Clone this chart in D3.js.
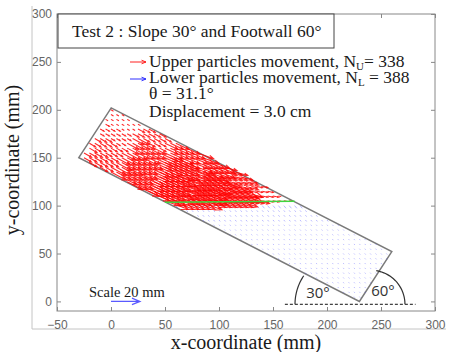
<!DOCTYPE html>
<html>
<head>
<meta charset="utf-8">
<script src="https://cdn.jsdelivr.net/npm/d3@7"></script>
<style>
  body { margin: 0; background: #fff; }
  svg { display: block; }
  .tick text { font-family: "Liberation Sans", Arial, sans-serif; font-size: 12px; fill: #666; }
</style>
</head>
<body>
<svg id="chart" width="449" height="352"></svg>
<script>
// axis ticks
const xTicks = [-50, 0, 50, 100, 150, 200, 250, 300];
const yTicks = [0, 50, 100, 150, 200, 250, 300];

// slope block outline (mm): left, top, right, bottom corner
const blockX = [-29.8, 0.2, 260, 230];
const blockY = [150, 202, 52, 0];

// sliding surface (green line)
const slipX = [50, 170];
const slipY = [103.5, 104.5];

// particle grid spacing (mm)
const gridStep = 5;

// upper particle displacement (mm), read off the picture by band
// columns: distance along the slope from the left corner, rows: distance from the lower edge
const alongBands = [0, 30, 60, 90, 120, 150, 180];
const acrossBands = [0, 15, 30, 45];
const upperMag = [
  [6, 12, 16, 17, 16, 0, 0],
  [5, 11, 16, 18, 16, 10, 0],
  [3, 9, 14, 17, 16, 9, 3],
  [2, 5, 10, 12, 9, 4, 2]
];
const upperDir = [-30, -28, -25, -20, -15, -12, -10]; // degrees, per along band

// lower particle displacement (mm), by depth below the sliding surface
const lowerDepth = [0, 8, 20];
const lowerMag = [2.4, 1.3, 0.9];
const lowerDir = -50;

const scaleArrowMm = 20;

const SERIF = "'Liberation Serif', Tinos, 'Times New Roman', 'DejaVu Serif', serif";
const svg = d3.select("#chart");
const x = d3.scaleLinear().domain([-50, 300]).range([57, 435]);
const y = d3.scaleLinear().domain([-10, 300]).range([311, 14]);
const pxPerMm = 1.45; // quiver scaling

// outer frame lines
svg.append("line").attr("x1", 32).attr("x2", 32).attr("y1", 6).attr("y2", 329)
  .attr("stroke", "#c4c4c4");
svg.append("line").attr("x1", 32).attr("x2", 446).attr("y1", 329).attr("y2", 329)
  .attr("stroke", "#c4c4c4");

// axes (MATLAB box, ticks inside)
function styleAxis(g) {
  g.selectAll(".domain").remove();
  g.selectAll(".tick line").attr("stroke", "#888");
}
svg.append("g").attr("transform", "translate(0,311)")
  .call(d3.axisBottom(x).tickValues(xTicks).tickSizeInner(-4).tickSizeOuter(0).tickPadding(9))
  .call(styleAxis);
svg.append("g").attr("transform", "translate(0,14)")
  .call(d3.axisTop(x).tickValues(xTicks).tickSizeInner(-4).tickSizeOuter(0).tickFormat(""))
  .call(styleAxis);
svg.append("g").attr("transform", "translate(57,0)")
  .call(d3.axisLeft(y).tickValues(yTicks).tickSizeInner(-4).tickSizeOuter(0).tickPadding(5))
  .call(styleAxis);
svg.append("g").attr("transform", "translate(435,0)")
  .call(d3.axisRight(y).tickValues(yTicks).tickSizeInner(-4).tickSizeOuter(0).tickFormat(""))
  .call(styleAxis);
svg.append("rect").attr("x", 57).attr("y", 14).attr("width", 435 - 57).attr("height", 311 - 14)
  .attr("fill", "none").attr("stroke", "#888");

// block outline
const corners = blockX.map((d, i) => [x(d), y(blockY[i])]);
svg.append("path").attr("d", d3.line()(corners) + "Z")
  .attr("fill", "none").attr("stroke", "#7a7a7a").attr("stroke-width", 1.5);

// particles
const L0 = [blockX[0], blockY[0]];
const uDir = [(blockX[3] - L0[0]), (blockY[3] - L0[1])];
const uLen = Math.hypot(uDir[0], uDir[1]);
const vDir = [(blockX[1] - L0[0]), (blockY[1] - L0[1])];
const vLen = Math.hypot(vDir[0], vDir[1]);
const slipAt = px => slipY[0] + (slipY[1] - slipY[0]) * (px - slipX[0]) / (slipX[1] - slipX[0]);

function band(edges, v) {
  let k = 0;
  edges.forEach((e, i) => { if (v >= e) k = i; });
  return k;
}

const particles = [];
for (let px = -30; px <= 260; px += gridStep) {
  for (let py = 0; py <= 205; py += gridStep) {
    const dx = px - L0[0], dy = py - L0[1];
    const u = (dx * uDir[0] + dy * uDir[1]) / uLen;
    const v = (dx * vDir[0] + dy * vDir[1]) / vLen;
    if (u < 0.5 || u > uLen - 0.5 || v < 0.5 || v > vLen - 0.5) continue;
    const surf = slipAt(Math.max(slipX[0], Math.min(slipX[1], px)));
    const upper = py > surf;
    let mag, dir;
    if (upper) {
      mag = upperMag[band(acrossBands, v)][band(alongBands, u)];
      dir = upperDir[band(alongBands, u)];
    } else {
      mag = lowerMag[band(lowerDepth, surf - py)];
      dir = lowerDir;
    }
    particles.push({ x: px, y: py, mag: Math.max(mag, 0.8), dir, upper });
  }
}

function arrowPath(sx, sy, len, deg) {
  const a = deg * Math.PI / 180;
  const ex = sx + len * Math.cos(a), ey = sy - len * Math.sin(a);
  let p = `M${sx},${sy}L${ex},${ey}`;
  if (len > 4) {
    const h = len * 0.3, s = 22 * Math.PI / 180;
    p += `M${ex - h * Math.cos(a - s)},${ey + h * Math.sin(a - s)}L${ex},${ey}`
       + `L${ex - h * Math.cos(a + s)},${ey + h * Math.sin(a + s)}`;
  }
  return p;
}

svg.append("g").selectAll("path")
  .data(particles.filter(d => !d.upper))
  .enter().append("path")
  .attr("d", d => arrowPath(x(d.x), y(d.y), d.mag * pxPerMm, d.dir))
  .attr("fill", "none").attr("stroke", "#4848ff").attr("stroke-opacity", 0.38)
  .attr("stroke-width", 1);

svg.append("g").selectAll("path")
  .data(particles.filter(d => d.upper))
  .enter().append("path")
  .attr("d", d => arrowPath(x(d.x), y(d.y), d.mag * pxPerMm, d.dir))
  .attr("fill", "none").attr("stroke", "#ff0000").attr("stroke-opacity", 0.85)
  .attr("stroke-width", 1.1);

// sliding surface
svg.append("line")
  .attr("x1", x(slipX[0])).attr("y1", y(slipY[0]))
  .attr("x2", x(slipX[1])).attr("y2", y(slipY[1]))
  .attr("stroke", "#3fd63f").attr("stroke-width", 1.5);

// ground line and angle arcs
svg.append("line").attr("x1", x(161)).attr("x2", x(282)).attr("y1", y(-3)).attr("y2", y(-3))
  .attr("stroke", "#111").attr("stroke-dasharray", "3,2");
function arcPath(cx, cy, r, a0, a1) {
  const pts = d3.range(0, 21).map(i => {
    const a = (a0 + (a1 - a0) * i / 20) * Math.PI / 180;
    return [cx + r * Math.cos(a), cy - r * Math.sin(a)];
  });
  return d3.line()(pts);
}
svg.append("path").attr("d", arcPath(x(217.6), y(-3), 51, 180, 146))
  .attr("fill", "none").attr("stroke", "#333").attr("stroke-width", 1.2);
svg.append("path").attr("d", arcPath(x(240.7), y(-3), 34, 81, 0))
  .attr("fill", "none").attr("stroke", "#333").attr("stroke-width", 1.2);
svg.append("text").attr("x", 318).attr("y", 298).attr("text-anchor", "middle")
  .attr("font-family", "'Open Sans', sans-serif").attr("font-size", 15).attr("fill", "#333").text("30°");
svg.append("text").attr("x", 383).attr("y", 296).attr("text-anchor", "middle")
  .attr("font-family", "'Open Sans', sans-serif").attr("font-size", 15).attr("fill", "#333").text("60°");

// scale arrow
svg.append("path")
  .attr("d", arrowPath(x(0), y(0), scaleArrowMm * pxPerMm, 0))
  .attr("fill", "none").attr("stroke", "#5a5aff").attr("stroke-width", 1.2);

function serifText(px, py, size, str) {
  return svg.append("text").attr("x", px).attr("y", py)
    .attr("font-size", size).attr("fill", "#1a1a1a")
    .style("font-family", SERIF)
    .text(str);
}
serifText(89, 297, 14.5, "Scale 20 mm");

// title box
svg.append("rect").attr("x", 58).attr("y", 14).attr("width", 276).attr("height", 34)
  .attr("fill", "#fff").attr("stroke", "#444");
serifText(72, 37, 17.5, "Test 2 : Slope 30° and Footwall 60°");

// legend
svg.append("path").attr("d", arrowPath(130, 62, 16, 0))
  .attr("fill", "none").attr("stroke", "#ff2020").attr("stroke-width", 1);
svg.append("path").attr("d", arrowPath(130, 79, 16, 0))
  .attr("fill", "none").attr("stroke", "#3030ff").attr("stroke-width", 1);
const t1 = serifText(149, 67, 17.5, null);
t1.append("tspan").text("Upper particles movement, N");
t1.append("tspan").attr("font-size", 11).attr("dy", 3).text("U");
t1.append("tspan").attr("dy", -3).text("= 338");
const t2 = serifText(149, 83, 17.5, null);
t2.append("tspan").text("Lower particles movement, N");
t2.append("tspan").attr("font-size", 11).attr("dy", 3).text("L");
t2.append("tspan").attr("dy", -3).text(" = 388");
serifText(149, 99, 17.5, "θ = 31.1°");
serifText(149, 117, 17.5, "Displacement = 3.0 cm");

// axis titles
serifText(246, 349, 20, "x-coordinate (mm)").attr("text-anchor", "middle");
serifText(0, 0, 20, "y-coordinate (mm)").attr("text-anchor", "middle")
  .attr("transform", "translate(19,160) rotate(-90)");
</script>
</body>
</html>
